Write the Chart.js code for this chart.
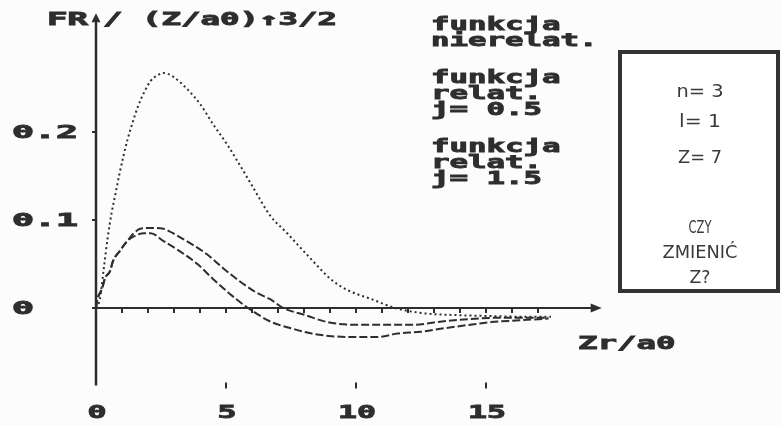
<!DOCTYPE html>
<html>
<head>
<meta charset="utf-8">
<script src="https://cdn.jsdelivr.net/npm/chart.js@4/dist/chart.umd.min.js"></script>
<style>
  html, body { margin: 0; padding: 0; background: #fcfcfc; }
  canvas { display: block; }
</style>
</head>
<body>
<canvas id="myChart" width="782" height="426"></canvas>
<script>
// funkcja nierelatywistyczna (kropki)
var nierelX = [0, 0.15, 0.3, 0.45, 0.6, 0.75, 0.9, 1.05, 1.2, 1.4, 1.6, 1.85, 2.1, 2.4, 2.6, 2.96, 3.5, 4.0, 4.5, 5.04, 5.5, 6.04, 6.7, 7.35, 8.1, 9.1, 9.7, 10.6, 11.5, 12.6, 13.8, 15.0, 16.7, 17.5];
var nierelY = [0, 0.01, 0.045, 0.08, 0.108, 0.13, 0.152, 0.172, 0.19, 0.21, 0.228, 0.245, 0.258, 0.265, 0.267, 0.263, 0.249, 0.232, 0.209, 0.186, 0.164, 0.137, 0.105, 0.085, 0.061, 0.031, 0.02, 0.01, 0, -0.006, -0.008, -0.009, -0.01, -0.01];
// funkcja relat. j=0.5
var rel05X = [0, 0.04, 0.23, 0.35, 0.54, 0.65, 0.92, 1.2, 1.42, 1.7, 2.15, 2.6, 2.96, 3.6, 4.27, 4.9, 5.5, 6.2, 6.7, 7.2, 8.05, 8.9, 10.0, 11.2, 12.25, 13.1, 14.4, 15.7, 17.4];
var rel05Y = [0, 0.008, 0.022, 0.034, 0.042, 0.053, 0.065, 0.076, 0.084, 0.09, 0.091, 0.09, 0.085, 0.074, 0.061, 0.045, 0.031, 0.017, 0.01, 0, -0.008, -0.016, -0.019, -0.019, -0.019, -0.016, -0.0125, -0.011, -0.011];
// funkcja relat. j=1.5
var rel15X = [0, 0.04, 0.23, 0.35, 0.54, 0.65, 0.92, 1.2, 1.5, 1.85, 2.1, 2.6, 3.2, 3.9, 4.5, 5.15, 5.85, 6.75, 7.5, 8.3, 9.05, 9.96, 10.8, 11.6, 12.5, 13.4, 14.4, 15.2, 16.3, 17.4];
var rel15Y = [0, 0.008, 0.022, 0.034, 0.042, 0.053, 0.065, 0.076, 0.082, 0.085, 0.085, 0.076, 0.065, 0.05, 0.033, 0.016, 0, -0.016, -0.023, -0.029, -0.032, -0.033, -0.033, -0.029, -0.027, -0.023, -0.019, -0.016, -0.014, -0.012];

var xTickLabels = [0, 5, 10, 15];
var yTickLabels = ['0', '0.1', '0.2'];
var yTickValues = [0, 0.1, 0.2];
var legendGroups = [
  ['funkcja', 'nierelat.'],
  ['funkcja', 'relat.', 'j= 0.5'],
  ['funkcja', 'relat.', 'j= 1.5']
];
var boxLines = ['n= 3', 'l= 1', 'Z= 7', 'CZY', 'ZMIENIĆ', 'Z?'];

var ink = '#2e2e2e';

function toPts(xs, ys) {
  var out = [];
  for (var i = 0; i < xs.length; i++) out.push({x: xs[i], y: ys[i]});
  return out;
}

// tekst "pikselowy": monospace bold rozciagniety do zadanego kroku znaku
function wideText(ctx, txt, x, y, size, pitch, align) {
  ctx.save();
  ctx.font = 'bold ' + size + 'px "DejaVu Sans Mono"';
  var s = pitch / ctx.measureText('M').width;
  var w = ctx.measureText(txt).width * s;
  var x0 = x;
  if (align === 'center') x0 = x - w / 2;
  ctx.translate(x0, y);
  ctx.scale(s, 1);
  ctx.textAlign = 'left';
  ctx.textBaseline = 'alphabetic';
  ctx.fillStyle = ink;
  ctx.strokeStyle = ink;
  ctx.lineWidth = 0.9;
  ctx.fillText(txt, 0, 0);
  ctx.strokeText(txt, 0, 0);
  ctx.restore();
}

// cienki tekst w ramce, dopasowany do szerokosci
function fitText(ctx, txt, cx, y, size, width) {
  ctx.save();
  ctx.font = size + 'px "DejaVu Sans"';
  var s = width / ctx.measureText(txt).width;
  ctx.translate(cx, y);
  ctx.scale(s, 1);
  ctx.textAlign = 'center';
  ctx.textBaseline = 'alphabetic';
  ctx.fillStyle = '#3a3a3a';
  ctx.fillText(txt, 0, 0);
  ctx.restore();
}

var axesPlugin = {
  id: 'axesPlugin',
  beforeDraw: function(chart) {
    var ctx = chart.ctx;
    ctx.save();
    ctx.fillStyle = '#fcfcfc';
    ctx.fillRect(0, 0, chart.width, chart.height);
    ctx.restore();
  },
  beforeDatasetsDraw: function(chart) {
    var ctx = chart.ctx;
    var xs = chart.scales.x, ys = chart.scales.y;
    var x0 = xs.getPixelForValue(0), y0 = ys.getPixelForValue(0);
    ctx.save();
    ctx.strokeStyle = ink;
    ctx.fillStyle = ink;
    // os Y
    var yTop = ys.getPixelForValue(0.335), yBot = ys.getPixelForValue(-0.088);
    ctx.lineWidth = 2.5;
    ctx.beginPath();
    ctx.moveTo(x0, yBot);
    ctx.lineTo(x0, yTop + 6);
    ctx.stroke();
    ctx.beginPath();
    ctx.moveTo(x0, yTop);
    ctx.lineTo(x0 - 4.5, yTop + 9);
    ctx.lineTo(x0 + 4.5, yTop + 9);
    ctx.closePath();
    ctx.fill();
    // os X
    var xEnd = xs.getPixelForValue(19.45);
    ctx.lineWidth = 2;
    ctx.beginPath();
    ctx.moveTo(x0 - 4, y0);
    ctx.lineTo(xEnd - 8, y0);
    ctx.stroke();
    ctx.beginPath();
    ctx.moveTo(xEnd, y0);
    ctx.lineTo(xEnd - 11, y0 - 4.5);
    ctx.lineTo(xEnd - 11, y0 + 4.5);
    ctx.closePath();
    ctx.fill();
    // drobne kreski na osi X
    ctx.lineWidth = 2;
    for (var k = 1; k <= 17; k++) {
      var px = xs.getPixelForValue(k);
      ctx.beginPath();
      ctx.moveTo(px, y0);
      ctx.lineTo(px, y0 + 5);
      ctx.stroke();
    }
    // kreski na osi Y
    for (var j = 1; j < yTickValues.length; j++) {
      var py = ys.getPixelForValue(yTickValues[j]);
      ctx.beginPath();
      ctx.moveTo(x0 - 4, py);
      ctx.lineTo(x0, py);
      ctx.stroke();
    }
    // kreski nad opisami osi X na dole
    for (var t = 1; t < xTickLabels.length; t++) {
      var tx = xs.getPixelForValue(xTickLabels[t]);
      ctx.beginPath();
      ctx.moveTo(tx, yBot - 3);
      ctx.lineTo(tx, yBot + 3);
      ctx.stroke();
    }
    ctx.restore();
  },
  afterDraw: function(chart) {
    var ctx = chart.ctx;
    var xs = chart.scales.x, ys = chart.scales.y;
    // tytul osi Y
    wideText(ctx, 'FR', 47, 25, 17, 20.5);
    wideText(ctx, '/ (Z/a0)\u21913/2', 103, 25, 17, 19.5);
    // opisy osi Y
    for (var i = 0; i < yTickLabels.length; i++) {
      var py = ys.getPixelForValue(yTickValues[i]);
      wideText(ctx, yTickLabels[i], 12, py + 6, 17, 22);
    }
    // opisy osi X
    for (var k = 0; k < xTickLabels.length; k++) {
      wideText(ctx, String(xTickLabels[k]), xs.getPixelForValue(xTickLabels[k]) + 1, 418, 18, 19, 'center');
    }
    wideText(ctx, 'Zr/a0', 578, 349, 18, 19.5);
    // legenda
    var base = [30, 83, 152];
    for (var g = 0; g < legendGroups.length; g++) {
      for (var l = 0; l < legendGroups[g].length; l++) {
        wideText(ctx, legendGroups[g][l], 431, base[g] + l * 16, 18, 18.5);
      }
    }
    // ramka
    ctx.save();
    ctx.strokeStyle = '#333';
    ctx.lineWidth = 4;
    ctx.fillStyle = '#ffffff';
    ctx.fillRect(620, 52, 158, 239);
    ctx.strokeRect(620, 52, 158, 239);
    ctx.restore();
    var bY = [97, 127, 163, 233, 258, 283];
    var bW = [47, 42, 44, 23, 75, 21];
    for (var b = 0; b < boxLines.length; b++) {
      fitText(ctx, boxLines[b], 700, bY[b], 17, bW[b]);
    }
  }
};

var ctx = document.getElementById('myChart').getContext('2d');
var myChart = new Chart(ctx, {
  type: 'line',
  data: {
    datasets: [{
      label: 'funkcja nierelat.',
      data: toPts(nierelX, nierelY),
      borderColor: ink,
      borderWidth: 2,
      borderDash: [2, 3],
      pointRadius: 0,
      cubicInterpolationMode: 'monotone',
      fill: false
    }, {
      label: 'funkcja relat. j= 0.5',
      data: toPts(rel05X, rel05Y),
      borderColor: ink,
      borderWidth: 2,
      borderDash: [8, 3],
      pointRadius: 0,
      cubicInterpolationMode: 'monotone',
      fill: false
    }, {
      label: 'funkcja relat. j= 1.5',
      data: toPts(rel15X, rel15Y),
      borderColor: ink,
      borderWidth: 2,
      borderDash: [8, 3],
      pointRadius: 0,
      cubicInterpolationMode: 'monotone',
      fill: false
    }]
  },
  options: {
    responsive: false,
    animation: false,
    events: [],
    layout: { padding: { left: 96, right: 166, top: 8.8, bottom: 38.8 } },
    plugins: { legend: { display: false }, tooltip: { enabled: false } },
    scales: {
      x: { type: 'linear', min: 0, max: 20, display: false },
      y: { type: 'linear', min: -0.09, max: 0.34, display: false }
    }
  },
  plugins: [axesPlugin]
});
</script>
</body>
</html>
